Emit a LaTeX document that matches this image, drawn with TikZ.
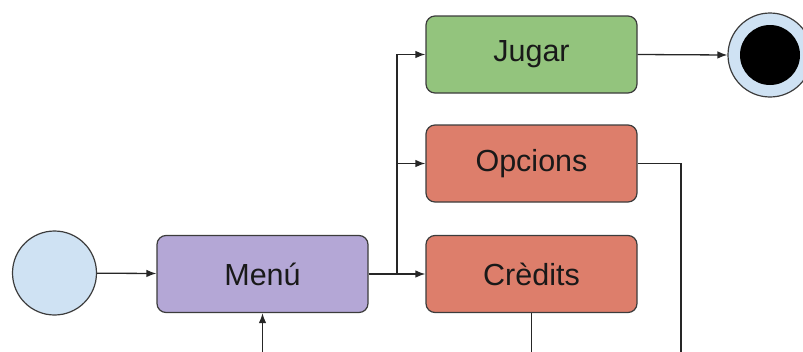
\documentclass[tikz,border=0pt]{standalone}
\usepackage{fontspec}
\setmainfont{Liberation Sans}
\usetikzlibrary{arrows.meta}
\definecolor{linec}{HTML}{3C3C3C}
\definecolor{menuc}{HTML}{B4A7D6}
\definecolor{jugarc}{HTML}{93C47D}
\definecolor{redc}{HTML}{DD7E6B}
\definecolor{bluec}{HTML}{CFE2F3}
\begin{document}
\begin{tikzpicture}[x=1pt,y=-1pt,
  statebox/.style={draw=linec, line width=1.2pt, rounded corners=9pt, minimum width=211pt, minimum height=77pt, inner sep=0pt, font=\fontsize{30.5}{36}\selectfont, text=black!90},
  pseudo/.style={circle, draw=linec, line width=1.2pt, fill=bluec, minimum size=84pt, inner sep=0pt},
  conn/.style={line width=1.3pt, draw=black!85},
  arr/.style={conn, -{Latex[length=10pt,width=7.5pt]}}]
\useasboundingbox (0,0) rectangle (803,351);
\node[pseudo] (start) at (54.5,273) {};
\node[statebox, fill=menuc] (menu) at (262.5,274) {Menú};
\node[statebox, fill=jugarc] (jugar) at (531.5,54.5) {Jugar};
\node[statebox, fill=redc] (opcions) at (531.5,163.5) {Opcions};
\node[statebox, fill=redc] (credits) at (531.5,274) {Crèdits};
\node[pseudo] (endo) at (770,55) {};
\node[circle, fill=black, minimum size=60pt, inner sep=0pt] (endi) at (endo) {};
\coordinate (br) at (397,274);
\coordinate (menuin) at (262.5,352);
\coordinate (opout) at (681,352);
\coordinate (crout) at (531.5,352);
\draw[arr] (start) -- (menu);
\draw[conn] (menu.east) -- (br);
\draw[arr] (br) -- (credits.west);
\draw[arr] (br) |- (jugar.west);
\draw[arr] (br |- opcions.west) -- (opcions.west);
\draw[arr] (jugar.east) -- (endo.west);
\draw[conn] (opcions.east) -| (opout);
\draw[conn] (credits.south) -- (crout);
\draw[arr] (menuin) -- (menu.south);
\end{tikzpicture}
\end{document}
